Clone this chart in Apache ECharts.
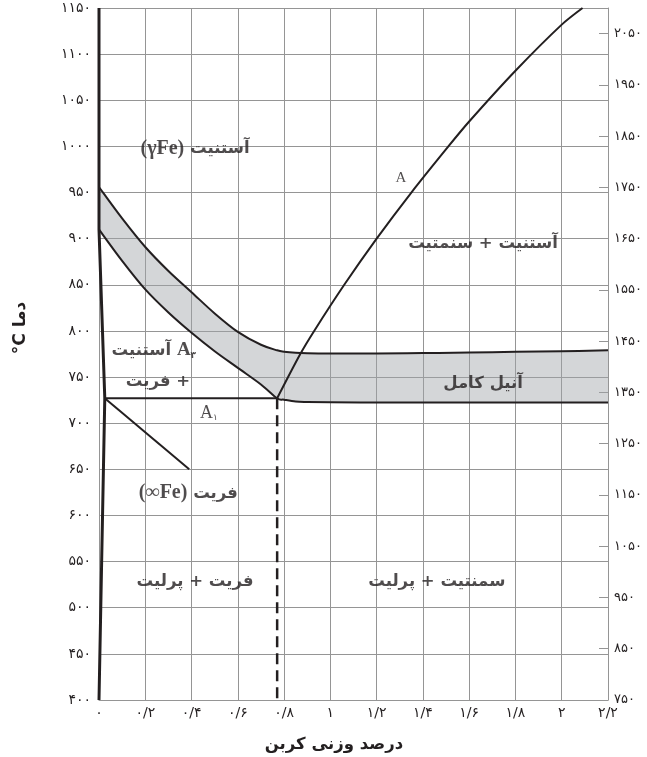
<!DOCTYPE html>
<html>
<head>
<meta charset="utf-8">
<script src="https://cdn.jsdelivr.net/npm/echarts@6/dist/echarts.min.js"></script>
<style>
  html, body { margin: 0; padding: 0; background: #ffffff; }
  #chart { width: 647px; height: 757px; }
</style>
</head>
<body>
<div id="chart"></div>
<script>
// Steel corner of the iron–carbon diagram: carbon wt% vs temperature (°C, right axis °F)

// Full-annealing band, sampled at common carbon contents
const bandCarbon = [0, 0.1, 0.2, 0.3, 0.4, 0.5, 0.6, 0.7, 0.77, 0.8, 0.85, 0.9, 1.0, 1.2, 1.4, 1.6, 1.8, 2.0, 2.2];
const bandUpper  = [956, 922, 891, 865, 842, 819, 799, 785, 779, 777.5, 776.3, 775.8, 775.5, 775.5, 776, 776.5, 777.5, 778, 779];
const bandLower  = [910, 876, 845, 820, 798, 778, 760, 742, 727, 725.5, 723.5, 723, 722.7, 722.5, 722.5, 722.5, 722.5, 722.5, 722.5];

// Acm line (austenite / austenite + cementite)
const acmCarbon = [0.77, 0.87, 0.93, 1.06, 1.2, 1.35, 1.51, 1.6, 1.8, 2.0, 2.09];
const acmTemp   = [727, 775, 800, 850, 900, 950, 1000, 1027, 1082, 1132, 1150];

// Ferrite boundary on the left edge
const ferriteCarbon = [0, 0, 0.025, 0];
const ferriteTemp   = [1150, 910, 727, 400];

// A1 eutectoid line, ferrite solvus stub, eutectoid composition marker
const a1Carbon = [0.025, 0.77];
const a1Temp   = [727, 727];
const solvusCarbon = [0.025, 0.39];
const solvusTemp   = [727, 650];
const eutectoidCarbon = [0.77, 0.77];
const eutectoidTemp   = [727, 400];

// Axis ranges
const carbonRange = [0, 2.2];
const celsiusRange = [400, 1150];
const fahrenheitRange = [750, 2100];

// Region names and their anchors (carbon %, °C)
const regionText = [
  '{fe|(γFe)}{fa| آستنیت}',
  '{fa|آستنیت + سنمتیت}',
  '{an|A}',
  '{fa|آستنیت }{ab|A}{abs|۳}',
  '{fa|فریت +}',
  '{an2|A}{ans|۱}',
  '{fe|(∞Fe)}{fa| فریت}',
  '{fa|آنیل کامل}',
  '{fa|فریت + پرلیت}',
  '{fa|سمنتیت + پرلیت}'
];
const regionCarbon = [0.415, 1.66, 1.305, 0.237, 0.255, 0.475, 0.386, 1.66, 0.415, 1.46];
const regionTemp   = [997, 895, 966, 779, 745, 711, 624, 743, 528, 528];

const INK = '#231f20';
const GRID = '#959595';
const BAND = 'rgba(160,163,168,0.45)';
const FA = '"DejaVu Sans", sans-serif';
const SERIF = '"Liberation Serif", "DejaVu Serif", serif';

const faDigits = '۰۱۲۳۴۵۶۷۸۹';
function toPersian(s) {
  return String(s).replace(/[0-9]/g, d => faDigits[+d]).replace('.', '/');
}
const pairs = (xs, ys) => xs.map((x, i) => [x, ys[i]]);

// Cubic Catmull-Rom segments through pixel points
function curveCommands(p) {
  let d = '';
  for (let i = 0; i < p.length - 1; i++) {
    const p0 = p[i - 1] || p[i], p1 = p[i], p2 = p[i + 1], p3 = p[i + 2] || p[i + 1];
    const c1x = p1[0] + (p2[0] - p0[0]) / 6, c1y = p1[1] + (p2[1] - p0[1]) / 6;
    const c2x = p2[0] - (p3[0] - p1[0]) / 6, c2y = p2[1] - (p3[1] - p1[1]) / 6;
    d += ' C' + c1x + ' ' + c1y + ' ' + c2x + ' ' + c2y + ' ' + p2[0] + ' ' + p2[1];
  }
  return d;
}

function renderBand(params, api) {
  if (params.dataIndex !== 0) return null;
  const up = bandCarbon.map((c, i) => api.coord([c, bandUpper[i]]));
  const lo = bandCarbon.map((c, i) => api.coord([c, bandLower[i]]));
  const loRev = lo.slice().reverse();
  const upD = 'M' + up[0][0] + ' ' + up[0][1] + curveCommands(up);
  const loD = 'M' + lo[0][0] + ' ' + lo[0][1] + curveCommands(lo);
  const fillD = upD + ' L' + loRev[0][0] + ' ' + loRev[0][1] + curveCommands(loRev) + ' Z';
  return {
    type: 'group',
    children: [
      { type: 'path', shape: { pathData: fillD }, style: { fill: BAND, stroke: null } },
      { type: 'path', shape: { pathData: upD }, style: { fill: null, stroke: INK, lineWidth: 2 } },
      { type: 'path', shape: { pathData: loD }, style: { fill: null, stroke: INK, lineWidth: 2 } }
    ]
  };
}

const chart = echarts.init(document.getElementById('chart'), null, { renderer: 'canvas' });

const edgeStyle = { color: INK, width: 2 };

chart.setOption({
  animation: false,
  backgroundColor: '#ffffff',
  grid: { left: 99, right: 39, top: 8, bottom: 57, containLabel: false },
  xAxis: {
    type: 'value',
    min: carbonRange[0], max: carbonRange[1], interval: 0.2,
    axisLine: { show: true, lineStyle: { color: GRID, width: 1 } },
    axisTick: { show: false },
    splitLine: { show: true, showMinLine: true, showMaxLine: true, lineStyle: { color: GRID, width: 1 } },
    axisLabel: {
      margin: 6, fontSize: 14, fontFamily: FA, color: INK,
      formatter: v => toPersian(Math.round(v * 10) / 10)
    }
  },
  yAxis: [
    {
      type: 'value',
      min: celsiusRange[0], max: celsiusRange[1], interval: 50,
      axisLine: { show: false },
      axisTick: { show: false },
      splitLine: { show: true, showMinLine: true, showMaxLine: true, lineStyle: { color: GRID, width: 1 } },
      axisLabel: { margin: 8, fontSize: 14, fontFamily: FA, color: INK, formatter: v => toPersian(v) }
    },
    {
      type: 'value', position: 'right',
      min: fahrenheitRange[0], max: fahrenheitRange[1], interval: 100,
      axisLine: { show: true, lineStyle: { color: GRID, width: 1 } },
      axisTick: { show: true, inside: true, length: 9, lineStyle: { color: GRID, width: 1 } },
      splitLine: { show: false },
      axisLabel: {
        margin: 6, fontSize: 13, fontFamily: FA, color: INK, padding: [0, 0, 10, 0],
        formatter: v => (v > 2050 ? '' : toPersian(v))
      }
    }
  ],
  graphic: [
    {
      type: 'text', x: 334, y: 745,
      style: { text: 'درصد وزنی کربن', font: 'bold 16.5px ' + FA, fill: INK, align: 'center', verticalAlign: 'middle' },
      z: 10
    },
    {
      type: 'text', x: 21, y: 328, rotation: Math.PI / 2,
      style: { text: '°C دما', font: 'bold 17px ' + FA, fill: INK, align: 'center', verticalAlign: 'middle' },
      z: 10
    }
  ],
  series: [
    {
      name: 'annealBand', type: 'custom', coordinateSystem: 'cartesian2d', clip: true, z: 1,
      data: bandCarbon.map((c, i) => [c, bandUpper[i], bandLower[i]]),
      encode: { x: 0, y: [1, 2] },
      renderItem: renderBand
    },
    {
      name: 'acm', type: 'line', smooth: 0.3, symbol: 'none',
      lineStyle: edgeStyle, data: pairs(acmCarbon, acmTemp), z: 3
    },
    {
      name: 'ferrite', type: 'line', symbol: 'none',
      lineStyle: { color: INK, width: 3 }, data: pairs(ferriteCarbon, ferriteTemp), z: 4
    },
    {
      name: 'a1', type: 'line', symbol: 'none',
      lineStyle: edgeStyle, data: pairs(a1Carbon, a1Temp), z: 3
    },
    {
      name: 'solvus', type: 'line', symbol: 'none',
      lineStyle: edgeStyle, data: pairs(solvusCarbon, solvusTemp), z: 3
    },
    {
      name: 'eutectoid', type: 'line', symbol: 'none',
      lineStyle: { color: INK, width: 2.5, type: [11, 6] }, data: pairs(eutectoidCarbon, eutectoidTemp), z: 3
    },
    {
      name: 'regions', type: 'scatter', symbolSize: 0, z: 6,
      data: regionCarbon.map((c, i) => ({ value: [c, regionTemp[i]], text: regionText[i] })),
      emphasis: { disabled: true },
      label: {
        show: true, position: 'inside', align: 'center', verticalAlign: 'middle', color: INK,
        formatter: p => p.data.text,
        rich: {
          fa:  { fontFamily: FA, fontWeight: 'bold', fontSize: 16.5, color: INK },
          fe:  { fontFamily: SERIF, fontWeight: 'bold', fontSize: 20, color: INK },
          an:  { fontFamily: SERIF, fontSize: 15, color: INK },
          an2: { fontFamily: SERIF, fontSize: 18, color: INK },
          ans: { fontFamily: FA, fontSize: 9, color: INK, verticalAlign: 'bottom' },
          ab:  { fontFamily: SERIF, fontWeight: 'bold', fontSize: 19, color: INK },
          abs: { fontFamily: FA, fontWeight: 'bold', fontSize: 9, color: INK, verticalAlign: 'bottom' }
        }
      }
    }
  ]
});
</script>
</body>
</html>
